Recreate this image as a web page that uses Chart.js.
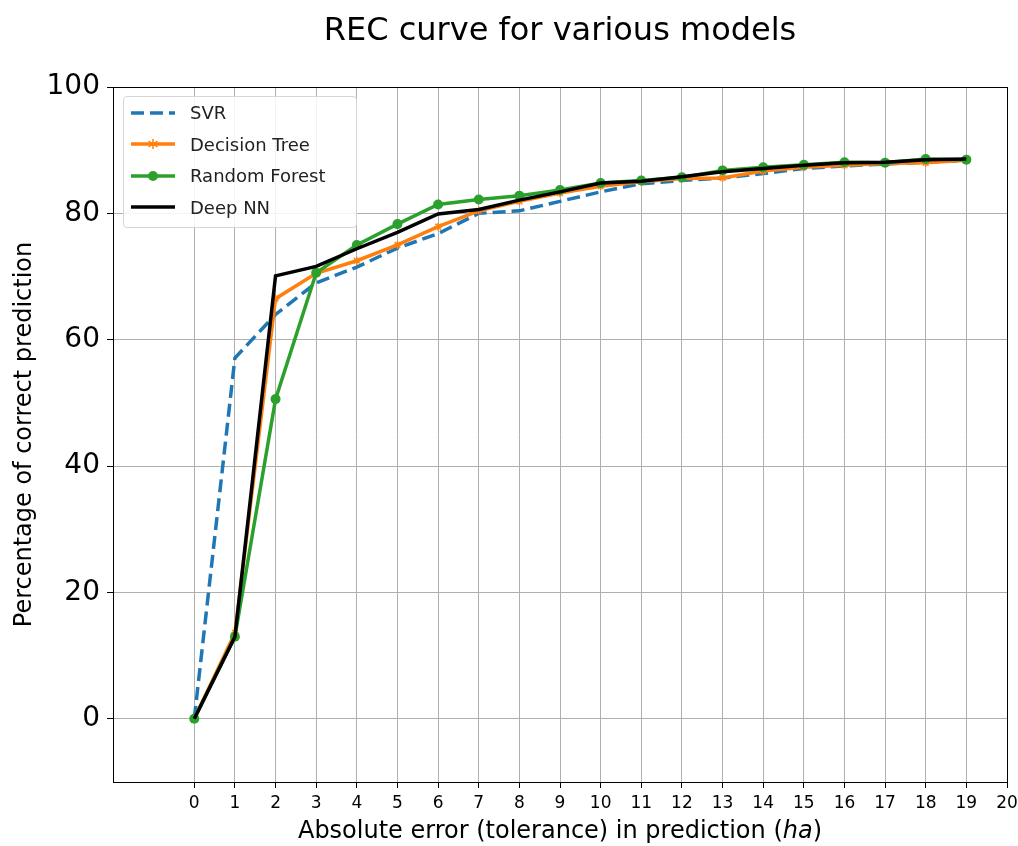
<!DOCTYPE html>
<html>
<head>
<meta charset="utf-8">
<script src="https://cdn.jsdelivr.net/npm/chart.js@4"></script>
<style>
    html, body { margin: 0; padding: 0; background: #fff; }
    #wrap { position: relative; width: 1018px; height: 846px; }
    #legend {
        position: absolute; left: 123px; top: 96px; width: 232px;
        border: 1px solid #d6d6d6; border-radius: 4px; background: rgba(255,255,255,0.85);
        font-family: 'DejaVu Sans', sans-serif; font-size: 18px; color: #222;
        padding: 0 0 4px 0;
    }
    #legend .row { display: flex; align-items: center; height: 31.5px; }
    #legend svg { margin-left: 6px; margin-right: 14px; }
</style>
</head>
<body>
<div id="wrap">
    <canvas id="recChart" width="1018" height="846"></canvas>
    <div id="legend"></div>
</div>
<script>
// tolerance values on x axis
const tolerance = [0, 1, 2, 3, 4, 5, 6, 7, 8, 9, 10, 11, 12, 13, 14, 15, 16, 17, 18, 19];
const xTicks = [0, 1, 2, 3, 4, 5, 6, 7, 8, 9, 10, 11, 12, 13, 14, 15, 16, 17, 18, 19, 20];
const yTicks = [0, 20, 40, 60, 80, 100];

const seriesNames = ['SVR', 'Decision Tree', 'Random Forest', 'Deep NN'];
const svr = [0, 57.1, 64.0, 69.0, 71.5, 74.5, 76.8, 80.0, 80.4, 81.9, 83.4, 84.7, 85.2, 85.6, 86.3, 87.1, 87.5, 87.8, 88.1, 88.4];
const decisionTree = [0, 13.6, 66.5, 70.5, 72.5, 75.0, 77.9, 80.4, 81.9, 83.2, 84.3, 85.0, 85.5, 85.6, 86.7, 87.3, 87.6, 87.9, 88.0, 88.4];
const randomForest = [0, 13.0, 50.6, 70.6, 75.0, 78.3, 81.4, 82.2, 82.8, 83.7, 84.8, 85.2, 85.7, 86.8, 87.3, 87.7, 88.1, 88.0, 88.6, 88.5];
const deepNN = [0, 13.0, 70.1, 71.6, 74.4, 77.0, 79.9, 80.6, 82.1, 83.4, 84.8, 85.1, 85.8, 86.6, 87.1, 87.6, 88.0, 88.1, 88.5, 88.6];

const colors = ['#1f77b4', '#ff7f0e', '#2ca02c', '#000000'];

const titleText = 'REC curve for various models';
const xTitleParts = [['Absolute error (tolerance) in prediction (', 'normal'], ['ha', 'italic'], [')', 'normal']];

function toPoints(values) {
    return values.map((v, i) => ({ x: tolerance[i], y: v }));
}

// box around the plot area + title and x label centred over the axes (matplotlib style)
const frame = {
    id: 'frame',
    afterDraw(chart) {
        const a = chart.chartArea;
        const ctx = chart.ctx;
        const cx = (a.left + a.right) / 2;
        ctx.save();
        ctx.strokeStyle = '#000';
        ctx.lineWidth = 1;
        ctx.strokeRect(a.left + 0.5, a.top + 0.5, a.right - a.left, a.bottom - a.top);

        ctx.fillStyle = '#000';
        ctx.textBaseline = 'middle';
        ctx.textAlign = 'center';
        ctx.font = '32px "DejaVu Sans"';
        ctx.fillText(titleText, cx, 32);

        // x label with italic unit
        ctx.textAlign = 'left';
        let total = 0;
        const widths = xTitleParts.map(([txt, style]) => {
            ctx.font = style + ' 24px "DejaVu Sans"';
            const w = ctx.measureText(txt).width;
            total += w;
            return w;
        });
        let x = cx - total / 2;
        xTitleParts.forEach(([txt, style], i) => {
            ctx.font = style + ' 24px "DejaVu Sans"';
            ctx.fillText(txt, x, 832);
            x += widths[i];
        });
        ctx.restore();
    }
};

const ctx = document.getElementById('recChart').getContext('2d');
new Chart(ctx, {
    type: 'line',
    data: {
        datasets: [
            {
                label: seriesNames[0], data: toPoints(svr),
                borderColor: colors[0], borderWidth: 3.5, borderDash: [13, 6],
                pointRadius: 0, order: 4
            },
            {
                label: seriesNames[1], data: toPoints(decisionTree),
                borderColor: colors[1], backgroundColor: colors[1], borderWidth: 3.5,
                pointStyle: 'star', pointRadius: 4, pointBorderWidth: 1.5, order: 3
            },
            {
                label: seriesNames[2], data: toPoints(randomForest),
                borderColor: colors[2], backgroundColor: colors[2], borderWidth: 3.5,
                pointStyle: 'circle', pointRadius: 5, pointBorderWidth: 0, order: 2
            },
            {
                label: seriesNames[3], data: toPoints(deepNN),
                borderColor: colors[3], borderWidth: 3.5,
                pointRadius: 0, order: 1
            }
        ]
    },
    options: {
        responsive: false,
        animation: false,
        devicePixelRatio: 1,
        layout: { padding: { left: 0, right: 11, top: 87, bottom: 0 } },
        plugins: {
            legend: { display: false },
            tooltip: { enabled: false },
            title: { display: false }
        },
        scales: {
            x: {
                type: 'linear',
                min: -2, max: 20,
                afterBuildTicks: (scale) => { scale.ticks = xTicks.map(v => ({ value: v })); },
                afterFit: (scale) => { scale.height = 64; scale.paddingRight = 0; },
                grid: { color: '#b0b0b0', lineWidth: 1, tickColor: '#000', tickLength: 6 },
                border: { display: true, color: '#000' },
                ticks: {
                    color: '#000', padding: 5, maxRotation: 0, autoSkip: false,
                    font: { family: 'DejaVu Sans', size: 17 }
                }
            },
            y: {
                min: -10, max: 100,
                afterBuildTicks: (scale) => { scale.ticks = yTicks.map(v => ({ value: v })); },
                afterFit: (scale) => { scale.width = 113; },
                grid: { color: '#b0b0b0', lineWidth: 1, tickColor: '#000', tickLength: 6 },
                border: { display: true, color: '#000' },
                ticks: {
                    color: '#000', padding: 7,
                    font: { family: 'DejaVu Sans', size: 28 }
                },
                title: {
                    display: true,
                    text: 'Percentage of correct prediction',
                    color: '#000',
                    font: { family: 'DejaVu Sans', size: 24 },
                    padding: { top: 10, bottom: 0 }
                }
            }
        }
    },
    plugins: [frame]
});

// legend drawn inside the axes, top-left
const legendEl = document.getElementById('legend');
seriesNames.forEach((name, i) => {
    const row = document.createElement('div');
    row.className = 'row';
    let marker = '';
    if (i === 1) marker = '<path d="M23 4 L23 14 M18.5 6 L27.5 12 M18.5 12 L27.5 6" stroke="' + colors[i] + '" stroke-width="1.5"/>';
    if (i === 2) marker = '<circle cx="23" cy="9" r="5" fill="' + colors[i] + '"/>';
    const dash = i === 0 ? ' stroke-dasharray="13 6"' : '';
    row.innerHTML = '<svg width="46" height="18"><line x1="1" y1="9" x2="45" y2="9" stroke="' + colors[i] +
        '" stroke-width="3.5"' + dash + '/>' + marker + '</svg><span>' + name + '</span>';
    legendEl.appendChild(row);
});
</script>
</body>
</html>
